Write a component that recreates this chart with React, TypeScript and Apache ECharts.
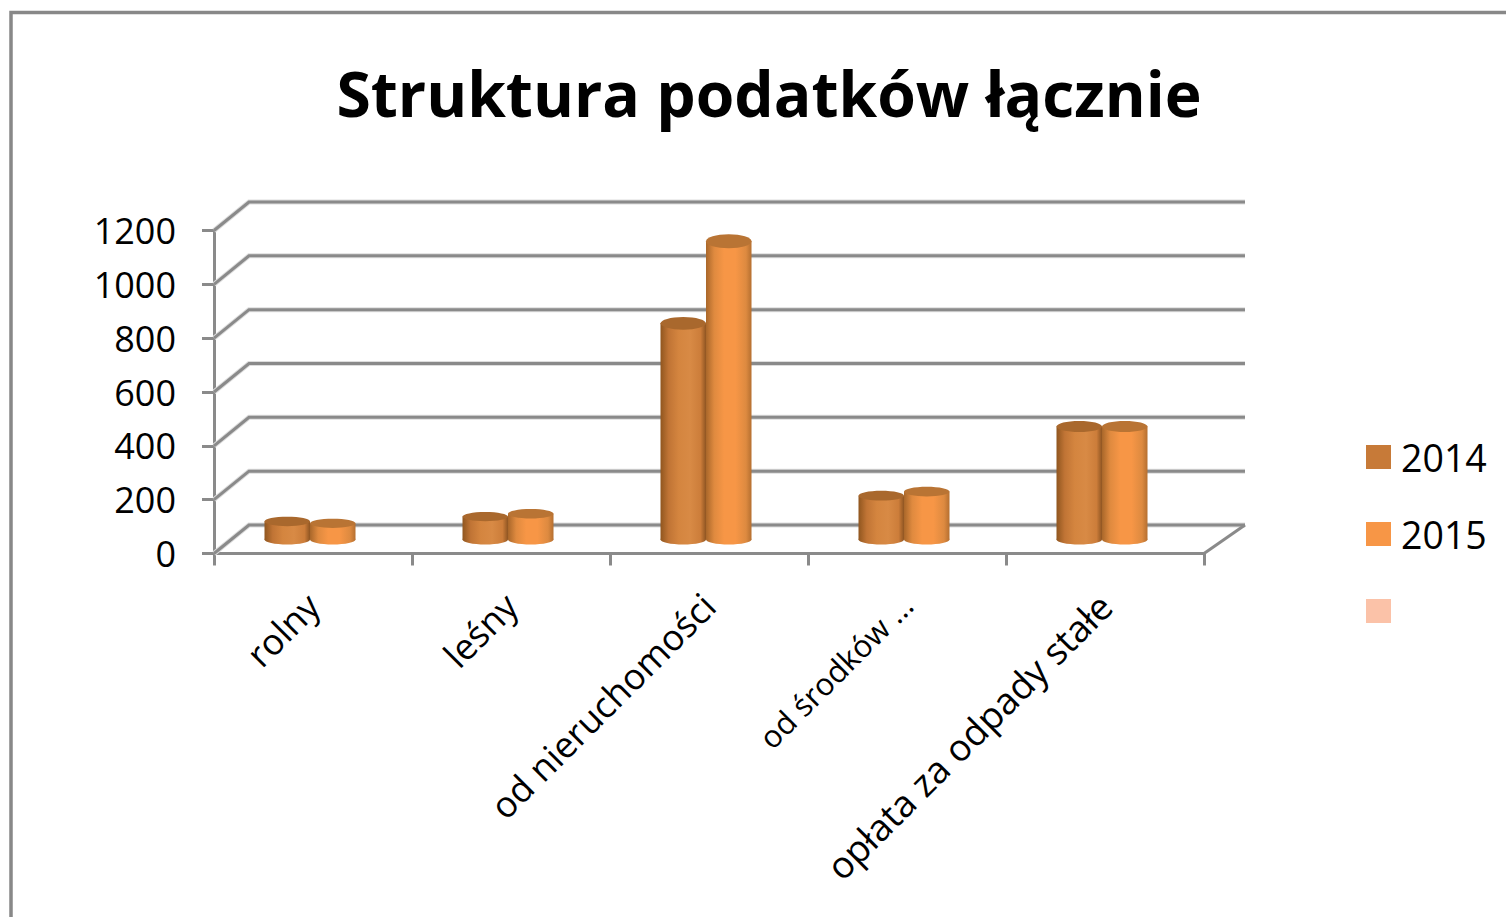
import React, { useEffect, useRef } from "react";
import * as echarts from "echarts";

const categories = ["rolny", "leśny", "od nieruchomości", "od środków ...", "opłata za odpady stałe"];
const values2014 = [67, 85, 803, 163, 420];
const values2015 = [60, 96, 1108, 178, 420];
const wallTicks = [0, 200, 400, 600, 800, 1000, 1200];

const labelSizes = [36, 36, 36, 31, 37];
const FONT = "'Open Sans', sans-serif";
const GRAY = "#8a8a8a";
const DEPTH_X = 35;
const DEPTH_Y = -28.5;
const BAR_W = 45.5;
const FLOOR_DY = -14;

const palette2014 = {
  stops: ["#90561f", "#c07435", "#d4853f", "#d88a45", "#cc7d3a", "#8f5522"],
  cap: "#a9682d",
};
const palette2015 = {
  stops: ["#a9672a", "#df8a3f", "#f79646", "#f79646", "#dd8a40", "#b56f30"],
  cap: "#b97434",
};

function bodyFill(stops: string[]) {
  const at = [0, 0.18, 0.4, 0.65, 0.88, 1];
  return new echarts.graphic.LinearGradient(
    0, 0, 1, 0,
    stops.map((color, i) => ({ offset: at[i], color }))
  );
}

function cylinderSeries(name: string, values: number[], side: number, pal: typeof palette2014, legendColor: string) {
  return {
    name,
    type: "custom",
    coordinateSystem: "cartesian2d",
    clip: false,
    itemStyle: { color: legendColor },
    encode: { x: 0, y: 1 },
    data: values.map((v, i) => [i, v]),
    renderItem: (_p: any, api: any) => {
      const [cx, y0] = api.coord([api.value(0), 0]);
      const [, yTop] = api.coord([api.value(0), api.value(1)]);
      const left = cx - 3 + (side < 0 ? -BAR_W : 0);
      const base = y0 + FLOOR_DY;
      const top = yTop + FLOOR_DY;
      const ry = Math.min(7, 4.5 + (base - top) / 110);
      const fill = bodyFill(pal.stops);
      return {
        type: "group",
        children: [
          { type: "ellipse", shape: { cx: left + BAR_W / 2, cy: base, rx: BAR_W / 2, ry: 5 }, style: { fill } },
          { type: "rect", shape: { x: left, y: top, width: BAR_W, height: base - top }, style: { fill } },
          { type: "ellipse", shape: { cx: left + BAR_W / 2, cy: top, rx: BAR_W / 2, ry }, style: { fill: pal.cap } },
        ],
      };
    },
  };
}

export default function App() {
  const ref = useRef<HTMLDivElement>(null);
  useEffect(() => {
    document.body.style.margin = "0";
    document.body.style.overflow = "hidden";
    const chart = echarts.init(ref.current!, undefined, { renderer: "svg" });
    chart.setOption({
      animation: false,
      backgroundColor: "#ffffff",
      title: {
        text: "Struktura podatków łącznie",
        left: 764,
        textAlign: "center",
        top: 56,
        textStyle: { fontFamily: FONT, fontWeight: "bold", fontSize: 62.4, color: "#000" },
      },
      grid: { left: 214, top: 230.5, width: 990, height: 323 },
      legend: {
        orient: "vertical",
        left: 1366,
        top: 438,
        padding: 0,
        itemWidth: 25,
        itemHeight: 24,
        itemGap: 39,
        selectedMode: false,
        icon: "rect",
        data: ["2014", "2015", " "],
        textStyle: { fontFamily: FONT, fontSize: 37.5, color: "#000", padding: [0, 0, 0, 5] },
      },
      xAxis: {
        type: "category",
        data: categories.map((value, i) => ({ value, textStyle: { fontSize: labelSizes[i] } })),
        axisLine: { lineStyle: { color: GRAY, width: 3 } },
        axisTick: { show: true, length: 12, lineStyle: { color: GRAY, width: 3 } },
        axisLabel: {
          interval: 0,
          rotate: 45,
          margin: 46,
          fontFamily: FONT,
          fontSize: 36,
          color: "#000",
        },
      },
      yAxis: {
        type: "value",
        min: 0,
        max: 1200,
        interval: 200,
        splitLine: { show: false },
        axisLine: { show: true, lineStyle: { color: GRAY, width: 3 } },
        axisTick: { show: true, length: 12, lineStyle: { color: GRAY, width: 3 } },
        axisLabel: { margin: 38, fontFamily: FONT, fontSize: 36, color: "#000", formatter: (v: number) => String(v) },
      },
      graphic: [
        {
          type: "polyline",
          silent: true,
          shape: { points: [[11, 917], [11, 12.5], [1506, 12.5]] },
          style: { stroke: "#888888", lineWidth: 3.5, fill: "none" },
        },
      ],
      series: [
        {
          name: "wall",
          type: "custom",
          coordinateSystem: "cartesian2d",
          clip: false,
          silent: true,
          data: wallTicks.map((v) => [0, v]),
          encode: { x: 0, y: 1 },
          renderItem: (params: any, api: any) => {
            const v = api.value(1);
            const y = api.coord([0, v])[1];
            const sys = params.coordSys;
            const x0 = sys.x;
            const x1 = sys.x + sys.width;
            const style = { stroke: GRAY, lineWidth: 3, fill: "none" };
            const halo = { stroke: "#dddddd", lineWidth: 5, fill: "none" };
            const pts = [[x0, y], [x0 + DEPTH_X, y + DEPTH_Y], [x1 + 41, y + DEPTH_Y]];
            const children: any[] = [
              { type: "polyline", shape: { points: pts }, style: halo },
              { type: "polyline", shape: { points: pts }, style },
            ];
            if (v === 0) {
              children.push({
                type: "polyline",
                shape: { points: [[x1, y], [x1 + 41, y + DEPTH_Y]] },
                style,
              });
            }
            return { type: "group", children };
          },
        },
        cylinderSeries("2014", values2014, -1, palette2014, "#c77a38"),
        cylinderSeries("2015", values2015, 1, palette2015, "#f79646"),
        {
          name: " ",
          type: "custom",
          coordinateSystem: "cartesian2d",
          itemStyle: { color: "#fbc2a8" },
          data: [],
          renderItem: () => null,
        },
      ],
    });
    return () => chart.dispose();
  }, []);
  return <div ref={ref} style={{ position: "absolute", left: 0, top: 0, width: 1506, height: 917 }} />;
}
